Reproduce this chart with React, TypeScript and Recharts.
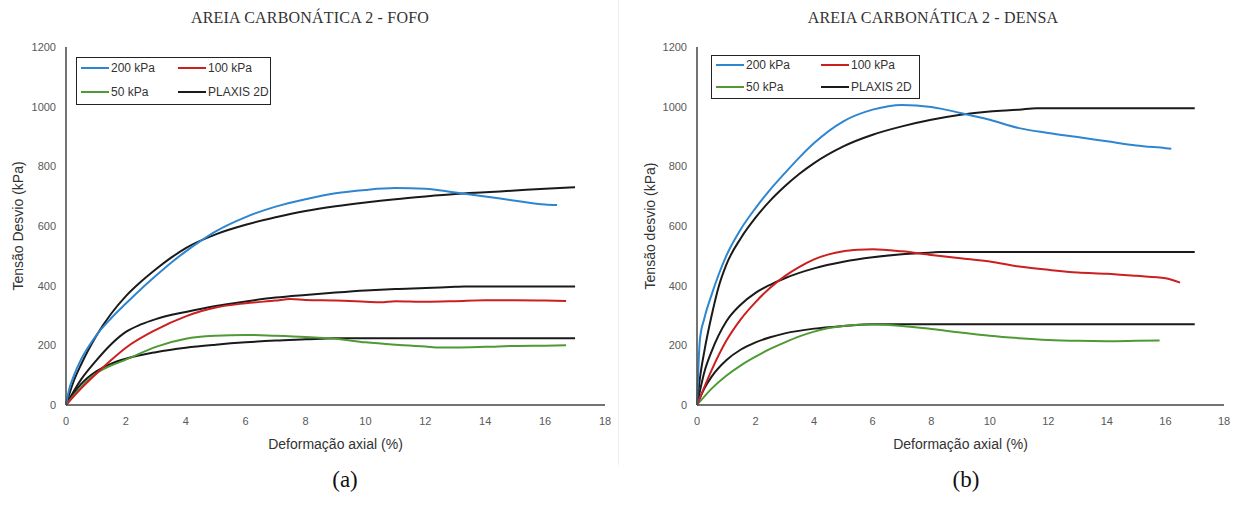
import React from 'react';
import { LineChart, Line, XAxis, YAxis } from 'recharts';

// x = axial strain (%), y = deviator stress (kPa)
type Pair = [number, number];

const xTicks = [0, 2, 4, 6, 8, 10, 12, 14, 16, 18];
const yTicks = [0, 200, 400, 600, 800, 1000, 1200];

// (a) loose
const fofo200: Pair[] = [[0, 0], [0.1, 50], [0.25, 95], [0.5, 152], [0.75, 195], [1, 232], [1.5, 290], [2, 340], [2.5, 388], [3, 433], [3.5, 476], [4, 515], [4.5, 550], [5, 582], [6, 630], [7, 665], [8, 690], [9, 710], [10, 721], [11, 727], [12, 725], [13, 712], [14, 699], [15, 685], [16, 672], [16.4, 670]];
const fofo100: Pair[] = [[0, 0], [0.5, 55], [1, 104], [1.5, 150], [2, 192], [3, 252], [4, 297], [4.5, 314], [5, 327], [6, 341], [7, 350], [7.5, 355], [8, 352], [9, 350], [10, 346], [10.5, 344], [11, 348], [12, 346], [13, 348], [14, 351], [15, 351], [16, 350], [16.7, 349]];
const fofo50: Pair[] = [[0, 0], [0.5, 60], [1, 105], [1.5, 132], [2, 152], [3, 195], [4, 222], [5, 232], [6, 235], [7, 232], [8, 228], [9, 222], [10, 210], [11, 202], [12, 196], [12.5, 193], [13, 193], [14, 195], [15, 198], [16, 199], [16.7, 200]];
const fofoPlaxis200: Pair[] = [[0, 0], [0.25, 78], [0.5, 135], [0.75, 185], [1, 230], [1.5, 305], [2, 365], [2.5, 413], [3, 455], [3.5, 493], [4, 526], [5, 572], [6, 604], [7, 629], [8, 650], [9, 666], [10, 679], [11, 690], [12, 699], [13, 707], [14, 713], [15, 719], [16, 725], [17, 730]];
const fofoPlaxis100: Pair[] = [[0, 0], [0.5, 85], [1, 148], [1.5, 203], [2, 245], [2.5, 270], [3, 288], [4, 312], [5, 332], [6, 347], [7, 360], [8, 369], [9, 377], [10, 384], [11, 389], [12, 392], [13, 396], [13.3, 397], [17, 397]];
const fofoPlaxis50: Pair[] = [[0, 0], [0.5, 70], [1, 112], [1.5, 138], [2, 155], [3, 177], [4, 192], [5, 202], [6, 210], [7, 216], [8, 220], [9, 224], [17, 224]];

// (b) dense
const densa200: Pair[] = [[0, 0], [0.1, 220], [0.25, 290], [0.5, 370], [0.75, 440], [1, 500], [1.5, 590], [2, 660], [2.5, 722], [3, 777], [3.5, 830], [4, 878], [5, 951], [6, 990], [7, 1006], [8, 999], [9, 979], [10, 956], [11, 928], [12, 912], [13, 898], [14, 884], [15, 870], [16, 861], [16.2, 859]];
const densa100: Pair[] = [[0, 0], [0.5, 117], [1, 215], [1.5, 288], [2, 345], [2.5, 393], [3, 432], [3.5, 463], [4, 488], [4.5, 505], [5, 515], [5.5, 520], [6, 522], [7, 515], [8, 503], [9, 492], [10, 481], [11, 464], [12, 453], [13, 444], [14, 440], [15, 433], [16, 425], [16.5, 410]];
const densa50: Pair[] = [[0, 0], [0.5, 55], [1, 98], [1.5, 133], [2, 162], [2.5, 188], [3, 210], [3.5, 230], [4, 246], [4.5, 258], [5, 265], [6, 270], [7, 265], [8, 255], [9, 243], [10, 232], [11, 224], [12, 218], [13, 215], [14, 214], [15, 215], [15.8, 216]];
const densaPlaxis200: Pair[] = [[0, 0], [0.1, 90], [0.25, 180], [0.5, 300], [0.75, 400], [1, 470], [1.5, 560], [2, 628], [2.5, 685], [3, 733], [3.5, 775], [4, 811], [5, 867], [6, 906], [7, 934], [8, 956], [9, 973], [10, 984], [11, 990], [11.6, 995], [17, 995]];
const densaPlaxis100: Pair[] = [[0, 0], [0.25, 110], [0.5, 180], [1, 280], [1.5, 337], [2, 376], [2.5, 403], [3, 425], [4, 458], [5, 480], [6, 495], [7, 505], [8, 511], [8.3, 513], [17, 513]];
const densaPlaxis50: Pair[] = [[0, 0], [0.25, 55], [0.5, 95], [1, 150], [1.5, 186], [2, 210], [2.5, 227], [3, 240], [4, 256], [5, 265], [6, 271], [17, 271]];

const BLUE = '#2e86d0';
const RED = '#cc1f1f';
const GREEN = '#4f9a35';
const BLACK = '#1a1a1a';

const SANS = '"Liberation Sans", Arial, sans-serif';
const SERIF = '"Liberation Serif", "Times New Roman", serif';

const toRows = (pairs: Pair[]) => pairs.map(([x, y]) => ({ x, y }));

interface Serie { name: string; pairs: Pair[]; color: string }

interface LegendSpec { x: number; y: number; w: number; h: number; col2: number; row1: number; row2: number }

interface PanelProps {
  left: number;
  width: number;
  axisX: number;
  rightPad: number;
  title: string;
  yLabel: string;
  yLabelOffset: number;
  series: Serie[];
  legendBox: LegendSpec;
  caption: string;
  captionX: number;
}

function LegendBox({ box }: { box: LegendSpec }) {
  const items = [
    { label: '200 kPa', color: BLUE, col: 0, row: box.row1 },
    { label: '100 kPa', color: RED, col: box.col2, row: box.row1 },
    { label: '50 kPa', color: GREEN, col: 0, row: box.row2 },
    { label: 'PLAXIS 2D', color: BLACK, col: box.col2, row: box.row2 },
  ];
  return (
    <div style={{ position: 'absolute', left: box.x, top: box.y, width: box.w, height: box.h, border: '1.5px solid #222', boxSizing: 'border-box', background: '#fff' }}>
      {items.map(it => (
        <div key={it.label} style={{ position: 'absolute', left: 4 + it.col, top: it.row - box.y - 9, display: 'flex', alignItems: 'center', fontFamily: SANS, fontSize: 12, color: '#333', whiteSpace: 'nowrap' }}>
          <span style={{ display: 'inline-block', width: 28, height: 2, background: it.color, marginRight: 2 }} />
          {it.label}
        </div>
      ))}
    </div>
  );
}

function Panel(p: PanelProps) {
  return (
    <div style={{ position: 'absolute', left: p.left, top: 0, width: p.width, height: 505 }}>
      <div style={{ position: 'absolute', left: 0, width: p.width, top: 9, textAlign: 'center', fontFamily: SERIF, fontSize: 16, letterSpacing: 0.2, color: '#333' }}>
        {p.title}
      </div>
      <LineChart width={p.width} height={470} margin={{ top: 47, right: p.rightPad, bottom: 0, left: 0 }}>
        <XAxis
          type="number"
          dataKey="x"
          domain={[0, 18]}
          ticks={xTicks}
          tickLine={false}
          axisLine={{ stroke: '#444', strokeWidth: 1.5 }}
          tick={{ fill: '#595959', fontSize: 11, fontFamily: SANS }}
          tickMargin={6}
          height={65}
          label={{ value: 'Deformação axial (%)', position: 'insideBottom', offset: 21, fill: '#333', fontSize: 14, fontFamily: SANS }}
        />
        <YAxis
          type="number"
          domain={[0, 1200]}
          ticks={yTicks}
          tickLine={false}
          axisLine={{ stroke: '#444', strokeWidth: 1.5 }}
          tick={{ fill: '#595959', fontSize: 11, fontFamily: SANS }}
          tickMargin={4}
          width={p.axisX}
          label={{ value: p.yLabel, angle: -90, position: 'insideLeft', offset: p.yLabelOffset, fill: '#333', fontSize: 14, fontFamily: SANS, style: { textAnchor: 'middle' } }}
        />
        {p.series.map((s, i) => (
          <Line key={i} data={toRows(s.pairs)} dataKey="y" name={s.name} type="monotone" stroke={s.color} strokeWidth={2} dot={false} isAnimationActive={false} />
        ))}
      </LineChart>
      <LegendBox box={p.legendBox} />
      <div style={{ position: 'absolute', left: p.captionX - 40, width: 80, top: 467, textAlign: 'center', fontFamily: SERIF, fontSize: 23, color: '#111' }}>
        {p.caption}
      </div>
    </div>
  );
}

export default function App() {
  const seriesA: Serie[] = [
    { name: 'PLAXIS 2D', pairs: fofoPlaxis50, color: BLACK },
    { name: 'PLAXIS 2D', pairs: fofoPlaxis100, color: BLACK },
    { name: 'PLAXIS 2D', pairs: fofoPlaxis200, color: BLACK },
    { name: '50 kPa', pairs: fofo50, color: GREEN },
    { name: '100 kPa', pairs: fofo100, color: RED },
    { name: '200 kPa', pairs: fofo200, color: BLUE },
  ];
  const seriesB: Serie[] = [
    { name: 'PLAXIS 2D', pairs: densaPlaxis50, color: BLACK },
    { name: 'PLAXIS 2D', pairs: densaPlaxis100, color: BLACK },
    { name: 'PLAXIS 2D', pairs: densaPlaxis200, color: BLACK },
    { name: '50 kPa', pairs: densa50, color: GREEN },
    { name: '100 kPa', pairs: densa100, color: RED },
    { name: '200 kPa', pairs: densa200, color: BLUE },
  ];
  return (
    <div style={{ position: 'absolute', left: 0, top: 0, width: 1246, height: 505, background: '#fff', overflow: 'hidden' }}>
      <Panel
        left={0}
        width={620}
        axisX={66}
        rightPad={15}
        title="AREIA CARBONÁTICA 2 - FOFO"
        yLabel="Tensão Desvio (kPa)"
        yLabelOffset={18}
        series={seriesA}
        legendBox={{ x: 76, y: 57, w: 195, h: 48, col2: 97, row1: 69, row2: 93 }}
        caption="(a)"
        captionX={345}
      />
      <div style={{ position: 'absolute', left: 618, top: 0, width: 1, height: 465, background: '#eeeeee' }} />
      <Panel
        left={620}
        width={626}
        axisX={77}
        rightPad={22}
        title="AREIA CARBONÁTICA 2 - DENSA"
        yLabel="Tensão desvio (kPa)"
        yLabelOffset={30}
        series={seriesB}
        legendBox={{ x: 91, y: 55, w: 209, h: 44, col2: 105, row1: 66, row2: 88 }}
        caption="(b)"
        captionX={346}
      />
    </div>
  );
}
